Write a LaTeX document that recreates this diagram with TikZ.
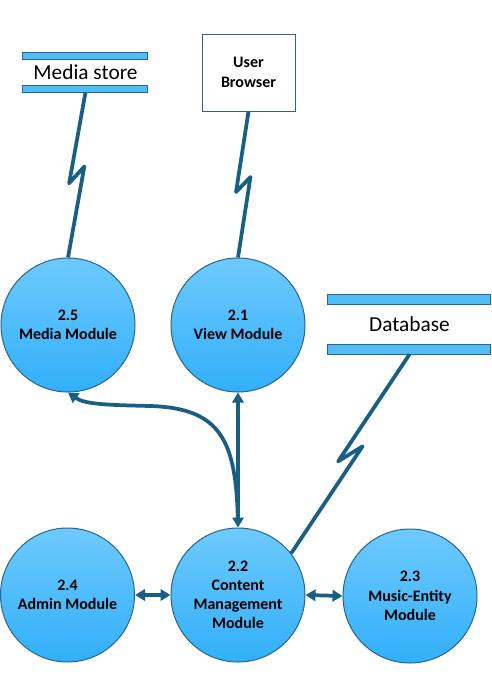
\documentclass[tikz,border=0pt]{standalone}
\usepackage{fontspec}
\setmainfont{Carlito}
\usetikzlibrary{arrows.meta,calc}
\definecolor{flow}{RGB}{25,95,132}
\definecolor{rim}{RGB}{40,100,140}
\definecolor{bubtop}{RGB}{110,202,253}
\definecolor{bubbot}{RGB}{50,175,250}
\definecolor{barfill}{RGB}{80,190,245}
\begin{document}
\begin{tikzpicture}
  [x=0.75pt, y=-0.75pt,
   process/.style={circle, draw=rim, line width=0.75pt, top color=bubtop, bottom color=bubbot,
     minimum size=100.5pt, inner sep=0pt, align=center, font=\bfseries\fontsize{12}{14.4}\selectfont},
   store/.style={rectangle, inner sep=0pt, font=\fontsize{16}{19}\selectfont},
   bar/.style={draw=rim, fill=barfill, line width=0.75pt},
   flowline/.style={draw=flow, line width=2.8pt, line join=round},
   both/.style={flowline, {Triangle[length=7.5pt,width=8.5pt]}-{Triangle[length=7.5pt,width=8.5pt]}},
   bolt/.style={to path={-- ($(\tikztostart)!.555!(\tikztotarget)!5pt!-90:(\tikztotarget)$)
       -- ($(\tikztostart)!.445!(\tikztotarget)!5pt!90:(\tikztotarget)$) -- (\tikztotarget)}}]
  \useasboundingbox (0,0) rectangle (492,697);

  % data stores and the outside entity
  \node[store, minimum width=93.75pt, minimum height=29.25pt] (mstore) at (85.5,72.5) {Media store};
  \draw[bar] (mstore.north west) rectangle ++(125,7);
  \draw[bar] (mstore.south west) rectangle ++(125,-7);
  \node[store, minimum width=122.25pt, minimum height=44.25pt] (db) at (409.5,324.5) {Database};
  \draw[bar] (db.north west) rectangle ++(163,10);
  \draw[bar] (db.south west) rectangle ++(163,-10);
  \node[draw=rim, line width=0.75pt, minimum width=69.75pt, minimum height=57.75pt, align=center,
        font=\bfseries\fontsize{12}{15}\selectfont] (browser) at (248.5,72.5) {User\\Browser};

  % processes
  \node[process] (media) at (68,325) {2.5\\Media Module};
  \node[process] (view) at (238,325) {2.1\\View Module};
  \node[process] (admin) at (67.5,595) {2.4\\Admin Module};
  \node[process] (content) at (238,595) {2.2\\Content\\Management\\Module};
  \node[process] (entity) at (410,596) {2.3\\Music-Entity\\Module};

  % flows
  \draw[flowline] (mstore.south) to[bolt] (media.north);
  \draw[flowline] (browser.south) to[bolt] (view.north);
  \draw[flowline] (db.south) to[bolt] (content.38);
  \draw[both] (content.north) -- (view.south);
  \draw[both] (admin.east) -- (content.west);
  \draw[both] (content.east) -- (entity.west);
  \draw[flowline, shorten <=6pt, -{Triangle[length=7.5pt,width=8.5pt]}]
    (content.north) .. controls +(-2,-88) and +(70,2) .. (150,406)
                    .. controls +(-40,-1) and +(17,12) .. (media.south);
\end{tikzpicture}
\end{document}
